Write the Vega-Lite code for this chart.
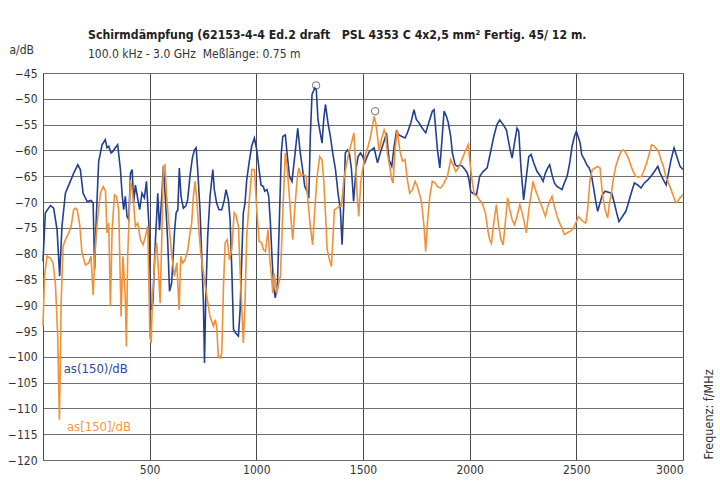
{
  "$schema": "https://vega.github.io/schema/vega-lite/v6.json",
  "width": 640,
  "height": 387,
  "autosize": {"type": "none"},
  "padding": {"left": 43, "top": 73, "right": 37, "bottom": 29},
  "background": "white",
  "title": {
    "text": "Schirmdämpfung (62153-4-4 Ed.2 draft \u00a0\u00a0PSL 4353 C 4x2,5 mm² Fertig. 45/ 12 m.",
    "subtitle": "100.0 kHz - 3.0 GHz \u00a0Meßlänge: 0.75 m",
    "anchor": "start",
    "frame": "group",
    "dx": 45,
    "dy": 31,
    "offset": 14,
    "font": "DejaVu Sans Condensed, Liberation Sans Narrow, Roboto, sans-serif",
    "fontSize": 12.2,
    "fontWeight": "bold",
    "color": "#222222",
    "subtitleFont": "DejaVu Sans Condensed, Liberation Sans Narrow, Roboto, sans-serif",
    "subtitleFontSize": 12,
    "subtitleColor": "#333333",
    "subtitlePadding": 8
  },
  "config": {
    "view": {"stroke": "#8a8a8a", "strokeWidth": 1},
    "axis": {
      "labelFont": "DejaVu Sans Condensed, Liberation Sans Narrow, Roboto, sans-serif",
      "titleFont": "DejaVu Sans Condensed, Liberation Sans Narrow, Roboto, sans-serif",
      "labelColor": "#333333",
      "titleColor": "#333333",
      "labelFontSize": 12,
      "titleFontSize": 12,
      "titleFontWeight": "normal",
      "ticks": false,
      "domain": false
    }
  },
  "datasets": {
    "blue": [
      {"f":0,"a":-81.5},{"f":11,"a":-72.1},{"f":35,"a":-70.7},{"f":50,"a":-71.2},{"f":66,"a":-75.4},{"f":78,"a":-84.4},{"f":89,"a":-74.7},{"f":105,"a":-68.3},{"f":128,"a":-66},{"f":144,"a":-64.4},{"f":163,"a":-62.8},{"f":175,"a":-63.7},{"f":188,"a":-68.3},{"f":207,"a":-69.9},{"f":225,"a":-69.7},{"f":235,"a":-70.2},{"f":242,"a":-83.1},{"f":250,"a":-72.8},{"f":261,"a":-62.1},{"f":277,"a":-58.9},{"f":292,"a":-57.9},{"f":300,"a":-59.5},{"f":308,"a":-59.2},{"f":319,"a":-60.5},{"f":328,"a":-60.2},{"f":339,"a":-59.5},{"f":350,"a":-58.9},{"f":363,"a":-63.7},{"f":371,"a":-68.6},{"f":378,"a":-71.5},{"f":386,"a":-68.9},{"f":394,"a":-72.8},{"f":402,"a":-73.4},{"f":410,"a":-64.4},{"f":418,"a":-63.7},{"f":425,"a":-70.2},{"f":433,"a":-66.7},{"f":441,"a":-68.6},{"f":453,"a":-71.5},{"f":464,"a":-68.3},{"f":475,"a":-69.2},{"f":485,"a":-66},{"f":496,"a":-74.1},{"f":506,"a":-90.9},{"f":515,"a":-89.6},{"f":525,"a":-79.2},{"f":538,"a":-68.3},{"f":546,"a":-75.4},{"f":557,"a":-68.9},{"f":564,"a":-63.1},{"f":575,"a":-70.2},{"f":585,"a":-78},{"f":593,"a":-87.3},{"f":603,"a":-85.7},{"f":616,"a":-76},{"f":624,"a":-72.1},{"f":632,"a":-71.5},{"f":639,"a":-63.4},{"f":647,"a":-68.9},{"f":658,"a":-71.2},{"f":669,"a":-70.8},{"f":678,"a":-69.6},{"f":689,"a":-65},{"f":700,"a":-61.5},{"f":710,"a":-59.9},{"f":718,"a":-59.5},{"f":725,"a":-63.7},{"f":736,"a":-71.5},{"f":744,"a":-80.5},{"f":752,"a":-89.6},{"f":757,"a":-101.2},{"f":763,"a":-88.3},{"f":772,"a":-76.7},{"f":783,"a":-68.9},{"f":796,"a":-63.7},{"f":803,"a":-67.6},{"f":814,"a":-70.2},{"f":825,"a":-71.5},{"f":838,"a":-71.5},{"f":850,"a":-69.6},{"f":858,"a":-67.6},{"f":869,"a":-69.6},{"f":877,"a":-73.4},{"f":885,"a":-83.1},{"f":893,"a":-94.7},{"f":903,"a":-95.4},{"f":916,"a":-96},{"f":924,"a":-90.9},{"f":932,"a":-80.5},{"f":939,"a":-72.1},{"f":947,"a":-70.2},{"f":955,"a":-65.7},{"f":966,"a":-62.4},{"f":978,"a":-59.2},{"f":991,"a":-57.6},{"f":1002,"a":-59.9},{"f":1013,"a":-63.7},{"f":1022,"a":-66.7},{"f":1033,"a":-67},{"f":1039,"a":-67.9},{"f":1050,"a":-67.6},{"f":1058,"a":-68.9},{"f":1066,"a":-74.1},{"f":1074,"a":-81.2},{"f":1082,"a":-87},{"f":1089,"a":-88.6},{"f":1099,"a":-85.7},{"f":1108,"a":-73.4},{"f":1117,"a":-60.5},{"f":1124,"a":-57.3},{"f":1136,"a":-57},{"f":1144,"a":-60.5},{"f":1155,"a":-65},{"f":1167,"a":-66},{"f":1180,"a":-61.2},{"f":1194,"a":-55.7},{"f":1206,"a":-60.5},{"f":1217,"a":-63.7},{"f":1227,"a":-67},{"f":1238,"a":-67.9},{"f":1246,"a":-69.2},{"f":1253,"a":-57.3},{"f":1261,"a":-49.2},{"f":1274,"a":-47.9},{"f":1281,"a":-48.2},{"f":1289,"a":-54},{"f":1297,"a":-56},{"f":1308,"a":-58.6},{"f":1316,"a":-54},{"f":1324,"a":-51.1},{"f":1336,"a":-54.7},{"f":1347,"a":-57.3},{"f":1358,"a":-60.5},{"f":1371,"a":-63.7},{"f":1383,"a":-68.3},{"f":1394,"a":-71.5},{"f":1402,"a":-78.3},{"f":1410,"a":-70.2},{"f":1417,"a":-60.5},{"f":1427,"a":-59.9},{"f":1436,"a":-60.5},{"f":1446,"a":-63.7},{"f":1456,"a":-69.9},{"f":1467,"a":-63.7},{"f":1477,"a":-61.2},{"f":1488,"a":-60.5},{"f":1499,"a":-61.2},{"f":1508,"a":-62.4},{"f":1519,"a":-61.2},{"f":1530,"a":-60.2},{"f":1540,"a":-59.9},{"f":1552,"a":-59.5},{"f":1568,"a":-62.4},{"f":1583,"a":-60.2},{"f":1599,"a":-58.2},{"f":1610,"a":-56.6},{"f":1622,"a":-61.8},{"f":1635,"a":-63.1},{"f":1646,"a":-59.2},{"f":1657,"a":-56.3},{"f":1669,"a":-57},{"f":1682,"a":-57.3},{"f":1697,"a":-57.6},{"f":1708,"a":-56.6},{"f":1724,"a":-54.7},{"f":1739,"a":-52.1},{"f":1750,"a":-54},{"f":1763,"a":-54.7},{"f":1778,"a":-55.7},{"f":1794,"a":-56.6},{"f":1810,"a":-54.4},{"f":1825,"a":-52.4},{"f":1833,"a":-52.1},{"f":1841,"a":-56},{"f":1849,"a":-59.9},{"f":1860,"a":-63.4},{"f":1869,"a":-58.6},{"f":1880,"a":-52.4},{"f":1891,"a":-53.4},{"f":1900,"a":-54.7},{"f":1911,"a":-57.3},{"f":1919,"a":-60.5},{"f":1932,"a":-62.8},{"f":1943,"a":-63.1},{"f":1953,"a":-62.8},{"f":1966,"a":-63.1},{"f":1978,"a":-63.7},{"f":1989,"a":-64.4},{"f":1997,"a":-65.7},{"f":2005,"a":-68},{"f":2016,"a":-68.3},{"f":2032,"a":-68.6},{"f":2047,"a":-65},{"f":2063,"a":-64.1},{"f":2082,"a":-63.4},{"f":2097,"a":-60.5},{"f":2113,"a":-57.3},{"f":2128,"a":-55},{"f":2141,"a":-54.1},{"f":2157,"a":-55},{"f":2172,"a":-56},{"f":2188,"a":-59.5},{"f":2199,"a":-61.5},{"f":2210,"a":-58.6},{"f":2222,"a":-55.7},{"f":2230,"a":-56.3},{"f":2241,"a":-63.7},{"f":2253,"a":-69.6},{"f":2266,"a":-65},{"f":2277,"a":-61.2},{"f":2288,"a":-60.8},{"f":2300,"a":-62.4},{"f":2316,"a":-64.1},{"f":2332,"a":-65},{"f":2344,"a":-66},{"f":2355,"a":-64.4},{"f":2366,"a":-63.4},{"f":2375,"a":-62.8},{"f":2386,"a":-64.7},{"f":2397,"a":-66.3},{"f":2410,"a":-67},{"f":2422,"a":-67.3},{"f":2433,"a":-67.6},{"f":2444,"a":-66.3},{"f":2457,"a":-65},{"f":2469,"a":-62.4},{"f":2480,"a":-59.2},{"f":2491,"a":-57.3},{"f":2500,"a":-56.3},{"f":2510,"a":-57.5},{"f":2518,"a":-58.6},{"f":2525,"a":-60.8},{"f":2538,"a":-61.8},{"f":2549,"a":-62.8},{"f":2560,"a":-63.4},{"f":2569,"a":-64.4},{"f":2580,"a":-67},{"f":2591,"a":-69.9},{"f":2600,"a":-71.8},{"f":2611,"a":-70.2},{"f":2622,"a":-68.6},{"f":2635,"a":-67.9},{"f":2650,"a":-68.1},{"f":2666,"a":-68.3},{"f":2678,"a":-70.2},{"f":2689,"a":-72.1},{"f":2700,"a":-73.8},{"f":2716,"a":-72.8},{"f":2732,"a":-71.8},{"f":2744,"a":-70.2},{"f":2757,"a":-68.3},{"f":2772,"a":-66.3},{"f":2788,"a":-66.7},{"f":2803,"a":-67.3},{"f":2819,"a":-66.3},{"f":2835,"a":-65.7},{"f":2850,"a":-65},{"f":2866,"a":-64.1},{"f":2882,"a":-63.1},{"f":2893,"a":-64.4},{"f":2908,"a":-65.7},{"f":2921,"a":-66.7},{"f":2932,"a":-64.4},{"f":2944,"a":-61.8},{"f":2958,"a":-59.5},{"f":2971,"a":-61.2},{"f":2986,"a":-63.1},{"f":3000,"a":-63.7}
    ],
    "orange": [
      {"f":0,"a":-94.1},{"f":7,"a":-84.4},{"f":19,"a":-80.5},{"f":35,"a":-80.9},{"f":47,"a":-81.8},{"f":58,"a":-85.7},{"f":69,"a":-96},{"f":77,"a":-112.2},{"f":85,"a":-89.6},{"f":94,"a":-78.6},{"f":105,"a":-77.3},{"f":121,"a":-76},{"f":132,"a":-74.7},{"f":144,"a":-71.5},{"f":152,"a":-71.2},{"f":160,"a":-71.5},{"f":172,"a":-74.4},{"f":183,"a":-79.9},{"f":199,"a":-82.2},{"f":214,"a":-81.8},{"f":225,"a":-80.5},{"f":235,"a":-88},{"f":246,"a":-77.9},{"f":257,"a":-72.8},{"f":269,"a":-68.3},{"f":282,"a":-67},{"f":293,"a":-67.9},{"f":300,"a":-76},{"f":308,"a":-74.1},{"f":316,"a":-90.2},{"f":324,"a":-75.4},{"f":335,"a":-68.6},{"f":344,"a":-68.9},{"f":355,"a":-71.5},{"f":366,"a":-92.2},{"f":375,"a":-80.5},{"f":386,"a":-88.9},{"f":391,"a":-98},{"f":397,"a":-80.5},{"f":410,"a":-65.7},{"f":422,"a":-68.9},{"f":433,"a":-74.7},{"f":444,"a":-74.1},{"f":457,"a":-77.3},{"f":469,"a":-78.3},{"f":480,"a":-76.7},{"f":491,"a":-74.7},{"f":501,"a":-96},{"f":507,"a":-97.3},{"f":513,"a":-88.9},{"f":525,"a":-80.5},{"f":533,"a":-77.9},{"f":541,"a":-83.1},{"f":549,"a":-89.6},{"f":557,"a":-76.7},{"f":564,"a":-63.1},{"f":572,"a":-62.8},{"f":580,"a":-68.9},{"f":591,"a":-74.7},{"f":604,"a":-80.5},{"f":616,"a":-84.4},{"f":627,"a":-81.8},{"f":638,"a":-90.9},{"f":646,"a":-80.5},{"f":655,"a":-81.8},{"f":666,"a":-81.2},{"f":679,"a":-79.2},{"f":689,"a":-76},{"f":697,"a":-74.1},{"f":705,"a":-68.9},{"f":713,"a":-66},{"f":721,"a":-69.6},{"f":729,"a":-74.7},{"f":741,"a":-80.5},{"f":752,"a":-83.8},{"f":768,"a":-88.3},{"f":783,"a":-92.2},{"f":799,"a":-94.1},{"f":807,"a":-92.8},{"f":814,"a":-94.1},{"f":822,"a":-99.9},{"f":830,"a":-100.2},{"f":838,"a":-99.3},{"f":846,"a":-86.3},{"f":854,"a":-77.9},{"f":864,"a":-77.3},{"f":874,"a":-81.2},{"f":885,"a":-79.2},{"f":896,"a":-72.1},{"f":904,"a":-72.5},{"f":916,"a":-74.7},{"f":927,"a":-86.3},{"f":939,"a":-97.3},{"f":947,"a":-89.6},{"f":955,"a":-76.7},{"f":966,"a":-70.2},{"f":979,"a":-63.7},{"f":991,"a":-63.7},{"f":1002,"a":-71.5},{"f":1013,"a":-77.6},{"f":1025,"a":-77.9},{"f":1033,"a":-79.2},{"f":1043,"a":-79.6},{"f":1055,"a":-75.4},{"f":1063,"a":-81.2},{"f":1071,"a":-84.4},{"f":1077,"a":-87.6},{"f":1083,"a":-83.8},{"f":1089,"a":-85.7},{"f":1097,"a":-87.6},{"f":1105,"a":-85.7},{"f":1113,"a":-84.4},{"f":1124,"a":-72.1},{"f":1136,"a":-60.5},{"f":1144,"a":-63.1},{"f":1155,"a":-68.9},{"f":1164,"a":-74.1},{"f":1171,"a":-77.3},{"f":1180,"a":-71.5},{"f":1191,"a":-65.7},{"f":1199,"a":-63.4},{"f":1210,"a":-65},{"f":1222,"a":-64.7},{"f":1233,"a":-65},{"f":1243,"a":-70.2},{"f":1253,"a":-74.7},{"f":1264,"a":-78.3},{"f":1274,"a":-71.5},{"f":1285,"a":-65},{"f":1297,"a":-61.2},{"f":1308,"a":-61.8},{"f":1316,"a":-65.7},{"f":1324,"a":-72.1},{"f":1332,"a":-79.2},{"f":1343,"a":-81.2},{"f":1352,"a":-82.5},{"f":1358,"a":-77.9},{"f":1366,"a":-71.5},{"f":1378,"a":-71.2},{"f":1389,"a":-70.8},{"f":1399,"a":-70.8},{"f":1410,"a":-65.7},{"f":1421,"a":-63.1},{"f":1433,"a":-60.5},{"f":1446,"a":-58.6},{"f":1457,"a":-56.6},{"f":1464,"a":-61.2},{"f":1472,"a":-68.3},{"f":1480,"a":-72.8},{"f":1490,"a":-66},{"f":1499,"a":-63.5},{"f":1510,"a":-61},{"f":1522,"a":-59.5},{"f":1532,"a":-58},{"f":1541,"a":-56},{"f":1552,"a":-53.4},{"f":1560,"a":-54.7},{"f":1568,"a":-57.3},{"f":1575,"a":-60.2},{"f":1586,"a":-57.9},{"f":1599,"a":-56},{"f":1607,"a":-57},{"f":1614,"a":-60.5},{"f":1625,"a":-63.1},{"f":1635,"a":-65.7},{"f":1641,"a":-66.3},{"f":1650,"a":-59.9},{"f":1661,"a":-56},{"f":1672,"a":-59.9},{"f":1685,"a":-62.1},{"f":1697,"a":-61.8},{"f":1708,"a":-65.7},{"f":1719,"a":-68.3},{"f":1732,"a":-67.6},{"f":1744,"a":-66},{"f":1755,"a":-67},{"f":1766,"a":-68.6},{"f":1775,"a":-70.2},{"f":1786,"a":-74.7},{"f":1794,"a":-79.6},{"f":1802,"a":-74.1},{"f":1813,"a":-68.9},{"f":1825,"a":-66},{"f":1838,"a":-66.3},{"f":1849,"a":-67},{"f":1864,"a":-67.3},{"f":1880,"a":-66.3},{"f":1896,"a":-65},{"f":1911,"a":-61.8},{"f":1922,"a":-62.8},{"f":1935,"a":-64.1},{"f":1947,"a":-63.4},{"f":1958,"a":-62.4},{"f":1969,"a":-61.2},{"f":1982,"a":-59.9},{"f":1994,"a":-58.9},{"f":2000,"a":-61.8},{"f":2011,"a":-65.7},{"f":2022,"a":-68.6},{"f":2035,"a":-68.9},{"f":2047,"a":-69.6},{"f":2058,"a":-70.2},{"f":2074,"a":-72.1},{"f":2085,"a":-75.4},{"f":2094,"a":-77.3},{"f":2102,"a":-78},{"f":2113,"a":-74.1},{"f":2125,"a":-70.5},{"f":2136,"a":-74.7},{"f":2147,"a":-77.3},{"f":2157,"a":-78.3},{"f":2167,"a":-74.1},{"f":2178,"a":-69.2},{"f":2188,"a":-71.5},{"f":2199,"a":-73.4},{"f":2210,"a":-74.4},{"f":2222,"a":-72.8},{"f":2235,"a":-70.5},{"f":2246,"a":-72.1},{"f":2257,"a":-74.1},{"f":2266,"a":-76},{"f":2277,"a":-71.5},{"f":2288,"a":-68.6},{"f":2297,"a":-66},{"f":2308,"a":-67.6},{"f":2319,"a":-68.9},{"f":2332,"a":-70.2},{"f":2344,"a":-71.5},{"f":2355,"a":-72.8},{"f":2366,"a":-70.8},{"f":2378,"a":-69.6},{"f":2386,"a":-68.9},{"f":2397,"a":-70.8},{"f":2410,"a":-72.8},{"f":2422,"a":-74.1},{"f":2433,"a":-75},{"f":2444,"a":-76.3},{"f":2457,"a":-76},{"f":2469,"a":-75.7},{"f":2480,"a":-75.4},{"f":2491,"a":-74.7},{"f":2500,"a":-73.8},{"f":2511,"a":-72.8},{"f":2522,"a":-73.4},{"f":2533,"a":-73.8},{"f":2544,"a":-74.1},{"f":2553,"a":-71.5},{"f":2564,"a":-65.7},{"f":2575,"a":-63.7},{"f":2588,"a":-63.4},{"f":2600,"a":-63.1},{"f":2611,"a":-63.4},{"f":2622,"a":-68.3},{"f":2635,"a":-71.5},{"f":2647,"a":-73.1},{"f":2655,"a":-70.2},{"f":2663,"a":-68.6},{"f":2674,"a":-65.4},{"f":2685,"a":-63.1},{"f":2697,"a":-61.5},{"f":2710,"a":-60.2},{"f":2721,"a":-59.9},{"f":2732,"a":-60.5},{"f":2744,"a":-61.5},{"f":2757,"a":-63.1},{"f":2767,"a":-64.1},{"f":2778,"a":-65},{"f":2791,"a":-65.2},{"f":2806,"a":-65},{"f":2819,"a":-63.7},{"f":2830,"a":-62.4},{"f":2841,"a":-60.8},{"f":2853,"a":-58.9},{"f":2866,"a":-59.2},{"f":2885,"a":-60.2},{"f":2897,"a":-61.8},{"f":2908,"a":-63.1},{"f":2919,"a":-65},{"f":2932,"a":-66.3},{"f":2944,"a":-67.6},{"f":2955,"a":-68.9},{"f":2966,"a":-70.1},{"f":2975,"a":-69.9},{"f":2986,"a":-69.2},{"f":3000,"a":-68.6}
    ],
    "peaks": [
      {"f": 1280, "a": -47.4},
      {"f": 1557, "a": -52.4}
    ],
    "labels": [
      {"f": 97, "a": -102.4, "t": "as(150)/dB", "c": "#2b4a93"},
      {"f": 112, "a": -113.6, "t": "as[150]/dB", "c": "#f0984a"}
    ]
  },
  "encoding": {
    "x": {
      "field": "f", "type": "quantitative",
      "scale": {"domain": [0, 3000], "nice": false, "zero": false},
      "axis": {
        "values": [0, 500, 1000, 1500, 2000, 2500, 3000],
        "labelExpr": "datum.value == 0 ? '' : datum.label",
        "format": "d",
        "grid": true,
        "gridColor": "#4a4a4a",
        "gridWidth": 1,
        "labelPadding": 4,
        "title": "Frequenz: f/MHz",
        "titleAngle": 270,
        "titleAlign": "center",
        "titleBaseline": "middle",
        "titleFontSize": 12.5,
        "titleX": 665,
        "titleY": -46
      }
    },
    "y": {
      "field": "a", "type": "quantitative",
      "scale": {"domain": [-120, -45], "nice": false, "zero": false},
      "axis": {
        "values": [-45, -50, -55, -60, -65, -70, -75, -80, -85, -90, -95, -100, -105, -110, -115, -120],
        "grid": true,
        "gridColor": "#6e6e6e",
        "gridWidth": 1,
        "labelPadding": 6,
        "title": "a/dB",
        "titleAngle": 0,
        "titleAlign": "left",
        "titleBaseline": "middle",
        "titleX": -34,
        "titleY": -24
      }
    }
  },
  "layer": [
    {
      "data": {"name": "blue"},
      "mark": {"type": "line", "color": "#22408f", "strokeWidth": 1.6, "interpolate": "linear"}
    },
    {
      "data": {"name": "orange"},
      "mark": {"type": "line", "color": "#f29035", "strokeWidth": 1.6, "interpolate": "linear"}
    },
    {
      "data": {"name": "peaks"},
      "mark": {"type": "point", "shape": "circle", "filled": false, "stroke": "#333333", "strokeWidth": 1, "size": 55}
    },
    {
      "data": {"name": "labels"},
      "mark": {"type": "text", "align": "left", "baseline": "middle", "font": "DejaVu Sans Condensed, Liberation Sans Narrow, Roboto, sans-serif", "fontSize": 13},
      "encoding": {
        "text": {"field": "t"},
        "color": {"field": "c", "type": "nominal", "scale": null}
      }
    }
  ]
}
